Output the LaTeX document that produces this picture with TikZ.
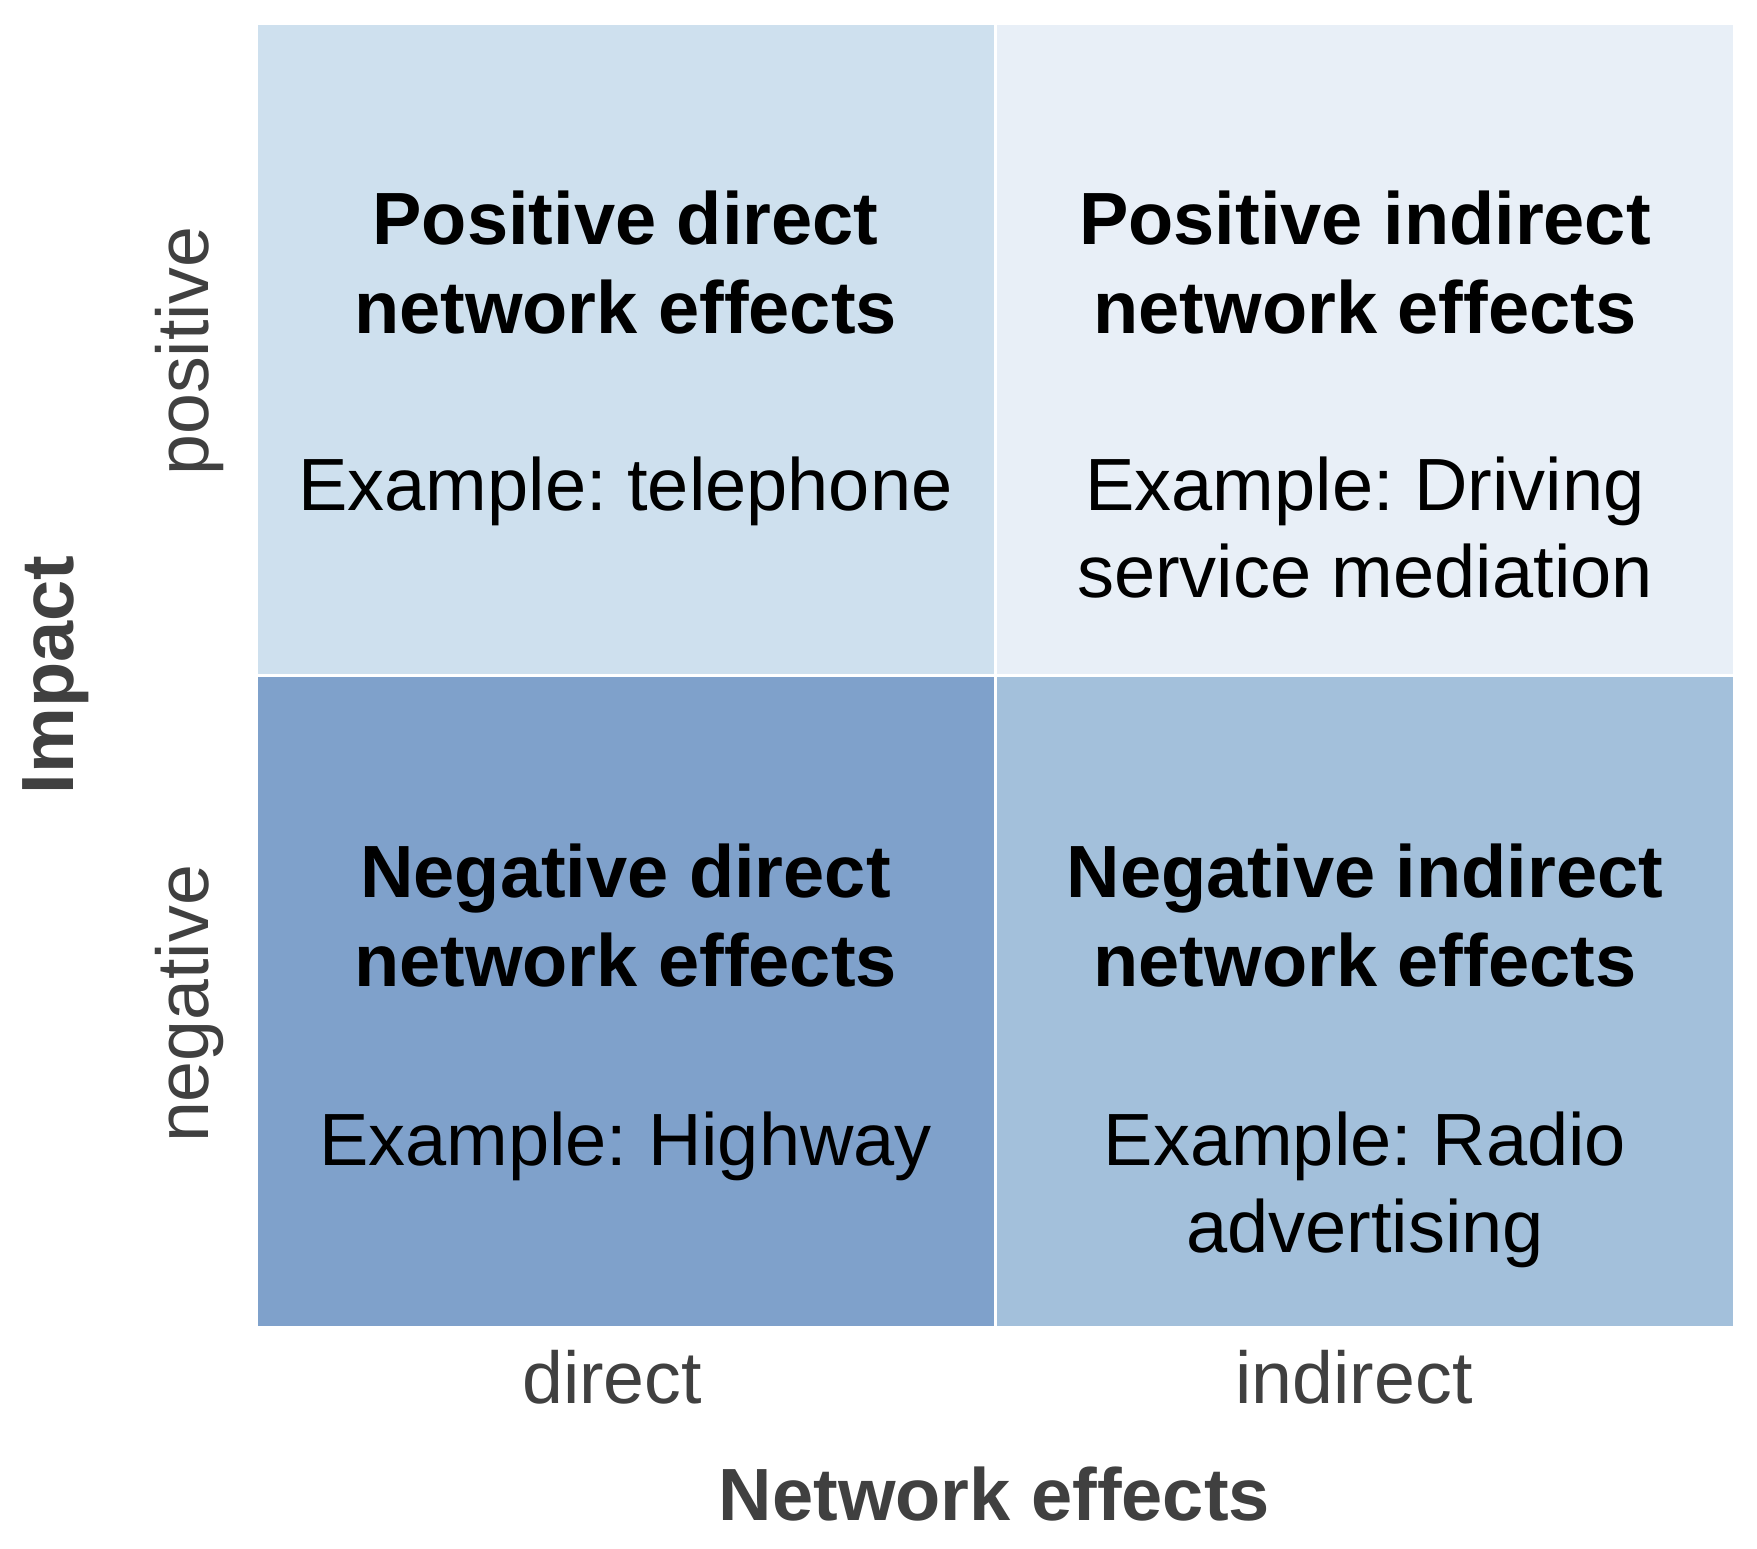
\documentclass[tikz,border=0pt]{standalone}
\usepackage{fontspec}
\setmainfont{Liberation Sans}
\frenchspacing
\definecolor{cTL}{RGB}{206,224,238}
\definecolor{cTR}{RGB}{232,239,247}
\definecolor{cBL}{RGB}{127,161,203}
\definecolor{cBR}{RGB}{163,192,219}
\definecolor{lab}{RGB}{64,64,64}
\begin{document}
\begin{tikzpicture}[x=1pt,y=-1pt,
  cell/.style={draw=white,line width=3pt,inner sep=0pt,minimum width=739pt,minimum height=652pt},
  title/.style={anchor=base,align=center,inner sep=0pt,font=\fontsize{74}{89}\selectfont\bfseries\frenchspacing},
  example/.style={anchor=base,align=center,inner sep=0pt,font=\fontsize{74}{87}\selectfont\frenchspacing},
  tick/.style={anchor=base,inner sep=0pt,text=lab,font=\fontsize{73.5}{88}\selectfont},
  axis/.style={anchor=base,inner sep=0pt,text=lab,font=\fontsize{74}{88}\selectfont\bfseries}]
\useasboundingbox (0,0) rectangle (1757,1549);
\fill[white] (0,0) rectangle (1757,1549);
% cells
\node[cell,fill=cTL] (tl) at (625.5,349.5) {};
\node[cell,fill=cTR] (tr) at (1365,349.5) {};
\node[cell,fill=cBL] (bl) at (625.5,1001.5) {};
\node[cell,fill=cBR] (br) at (1365,1001.5) {};
% cell texts (base = baseline of last line)
\node[title] (tlt) at (625.5,333) {Positive direct\\network effects};
\node[example] (tle) at (625.5,510) {Example: telephone};
\node[title] (trt) at (1365,333) {Positive indirect\\network effects};
\node[example] (tre) at (1365,597) {Example: Driving\\service mediation};
\node[title] (blt) at (625.5,986) {Negative direct\\network effects};
\node[example] (ble) at (625.5,1165) {Example: Highway};
\node[title] (brt) at (1365,986) {Negative indirect\\network effects};
\node[example] (bre) at (1365,1252) {Example: Radio\\advertising};
% ticks
\node[tick] (xd) at (612,1403) {direct};
\node[tick] (xi) at (1354,1403) {indirect};
\node[tick,rotate=90] (yp) at (208,351) {positive};
\node[tick,rotate=90] (yn) at (208,1004) {negative};
% axis labels
\node[axis] (xl) at (994.5,1520) {Network effects};
\node[axis,rotate=90] (yl) at (73,675) {Impact};
\end{tikzpicture}
\end{document}
